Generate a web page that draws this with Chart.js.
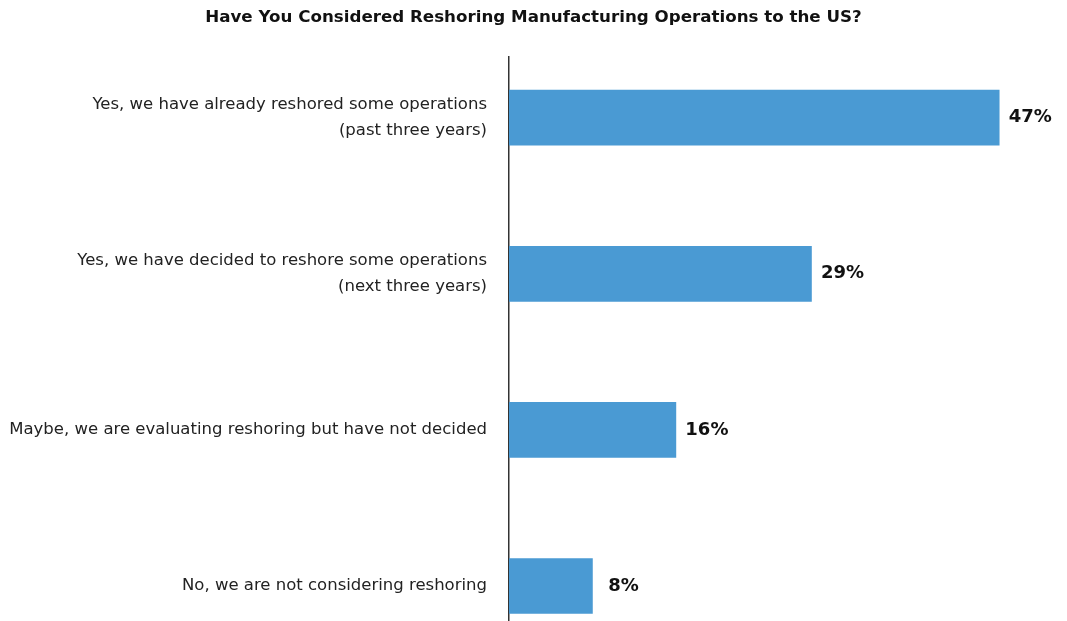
<!DOCTYPE html>
<html>
<head>
<meta charset="utf-8">
<script src="https://cdn.jsdelivr.net/npm/chart.js@4"></script>
<style>
html,body{margin:0;padding:0;background:#fff;}
#wrap{width:1067px;height:621px;position:relative;}
</style>
</head>
<body>
<div id="wrap"><canvas id="c" width="1067" height="621"></canvas></div>
<script>
const titleText = "Have You Considered Reshoring Manufacturing Operations to the US?";
const categories = [
  ["Yes, we have already reshored some operations", "(past three years)"],
  ["Yes, we have decided to reshore some operations", "(next three years)"],
  ["Maybe, we are evaluating reshoring but have not decided"],
  ["No, we are not considering reshoring"]
];
const values = [47, 29, 16, 8];
const valueLabels = ["47%", "29%", "16%", "8%"];

const points = values.map((v, i) => ({ x: v, y: i }));
const FONT = '"DejaVu Sans", "Liberation Sans", Arial, sans-serif';

const valuePlugin = {
  id: 'valueLabels',
  afterDatasetsDraw(chart) {
    const ctx = chart.ctx;
    const meta = chart.getDatasetMeta(0);
    ctx.save();
    ctx.font = 'bold 18px ' + FONT;
    ctx.fillStyle = '#111';
    ctx.textAlign = 'center';
    ctx.textBaseline = 'middle';
    meta.data.forEach((bar, i) => {
      ctx.fillText(valueLabels[i], bar.x + 31, bar.y);
    });
    ctx.restore();
  }
};

new Chart(document.getElementById('c'), {
  type: 'bar',
  data: {
    datasets: [{
      data: points,
      backgroundColor: '#4a9ad3',
      borderWidth: 0,
      barThickness: 55
    }]
  },
  options: {
    indexAxis: 'y',
    responsive: false,
    animation: false,
    layout: { padding: { left: 0, right: 0, top: 0, bottom: 0 } },
    plugins: {
      legend: { display: false },
      tooltip: { enabled: false },
      title: {
        display: true,
        text: titleText,
        color: '#111',
        font: { family: FONT, size: 16.7, weight: 'bold', lineHeight: 1.2 },
        padding: { top: 8, bottom: 28.6 }
      }
    },
    scales: {
      x: {
        type: 'linear',
        min: 0,
        max: 53.5,
        display: false
      },
      y: {
        type: 'linear',
        reverse: true,
        offset: false,
        min: -0.391,
        max: 3.224,
        afterFit(scale) { scale.width = 509; scale.paddingTop = 0; scale.paddingBottom = 0; },
        afterBuildTicks(scale) { scale.ticks = categories.map((_, i) => ({ value: i })); },
        grid: { display: false, drawTicks: false, offset: false },
        border: { display: true, color: '#333', width: 1.5 },
        ticks: {
          padding: 22,
          color: '#222',
          font: { family: FONT, size: 16.5, lineHeight: 1.57 },
          callback: (v) => categories[v]
        }
      }
    }
  },
  plugins: [valuePlugin]
});
</script>
</body>
</html>
